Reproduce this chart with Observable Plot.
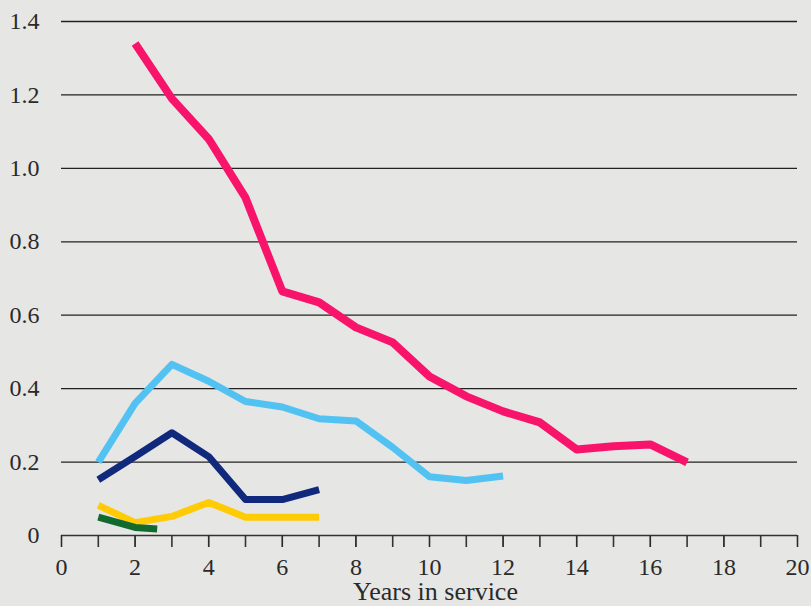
<!DOCTYPE html>
<html>
<head>
<meta charset="utf-8">
<script src="https://cdn.jsdelivr.net/npm/d3@7"></script>
<script src="https://cdn.jsdelivr.net/npm/@observablehq/plot@0.6"></script>
<style>
  html, body { margin: 0; padding: 0; background: #e6e6e4; }
</style>
</head>
<body>
<div id="chart"></div>
<script>
// Series data (x = years in service)
const pinkX = [2, 3, 4, 5, 6, 7, 8, 9, 10, 11, 12, 13, 14, 15, 16, 17];
const pinkY = [1.34, 1.19, 1.08, 0.92, 0.665, 0.635, 0.567, 0.526, 0.433, 0.379, 0.338, 0.308, 0.234, 0.243, 0.248, 0.199];
const blueX = [1, 2, 3, 4, 5, 6, 7, 8, 9, 10, 11, 12];
const blueY = [0.2, 0.36, 0.466, 0.42, 0.365, 0.35, 0.318, 0.312, 0.24, 0.16, 0.15, 0.162];
const navyX = [1, 2, 3, 4, 5, 6, 7];
const navyY = [0.152, 0.215, 0.28, 0.215, 0.098, 0.098, 0.125];
const yellowX = [1, 2, 3, 4, 5, 6, 7];
const yellowY = [0.082, 0.035, 0.052, 0.09, 0.05, 0.05, 0.05];
const greenX = [1, 2, 2.6];
const greenY = [0.05, 0.022, 0.018];

const xTicksMinor = d3.range(0, 21, 1);
const xTicksMajor = d3.range(0, 21, 2);
const yTicks = [0, 0.2, 0.4, 0.6, 0.8, 1.0, 1.2, 1.4];
const gridY = [0.2, 0.4, 0.6, 0.8, 1.0, 1.2, 1.4];
const xTitle = "Years in service";

const series = [
  {name: "pink", xs: pinkX, ys: pinkY, color: "#f8146a", width: 8},
  {name: "blue", xs: blueX, ys: blueY, color: "#52c2f3", width: 7},
  {name: "navy", xs: navyX, ys: navyY, color: "#10297c", width: 7},
  {name: "yellow", xs: yellowX, ys: yellowY, color: "#ffcb05", width: 7},
  {name: "green", xs: greenX, ys: greenY, color: "#136a2f", width: 7}
];

const lineMarks = series.map(s =>
  Plot.line(s.xs.map((x, i) => ({x, y: s.ys[i]})), {
    x: "x", y: "y", stroke: s.color, strokeWidth: s.width,
    strokeLinecap: "butt", strokeLinejoin: "round"
  })
);

const chart = Plot.plot({
  width: 811,
  height: 606,
  marginLeft: 61,
  marginRight: 14,
  marginTop: 21,
  marginBottom: 71,
  style: {background: "#e6e6e4", fontFamily: "'Liberation Serif', 'DejaVu Serif', serif", fontSize: "24px", color: "#2a2a2a"},
  x: {domain: [0, 20]},
  y: {domain: [0, 1.4]},
  marks: [
    Plot.ruleY(gridY, {x1: 0, x2: 20, stroke: "#222", strokeWidth: 1.3}),
    Plot.ruleY([0], {x1: 0, x2: 20, stroke: "#333", strokeWidth: 1.6}),
    Plot.axisX({ticks: xTicksMinor, tickSize: 12, tickFormat: () => "", stroke: "#333", strokeWidth: 1.6, label: null}),
    Plot.axisX({ticks: xTicksMajor, tickSize: 12, tickPadding: 10, tickFormat: d => String(d), fill: "#2a2a2a", fontSize: 24, label: null}),
    Plot.axisY({ticks: yTicks, tickSize: 0, tickPadding: 22, tickFormat: d => d === 0 ? "0" : d.toFixed(1), fill: "#2a2a2a", fontSize: 24, label: null}),
    Plot.text([xTitle], {frameAnchor: "bottom", lineAnchor: "top", dy: 46, dx: 6, fontSize: 26, fill: "#2a2a2a"}),
    ...lineMarks
  ]
});
document.getElementById("chart").appendChild(chart);
</script>
</body>
</html>
